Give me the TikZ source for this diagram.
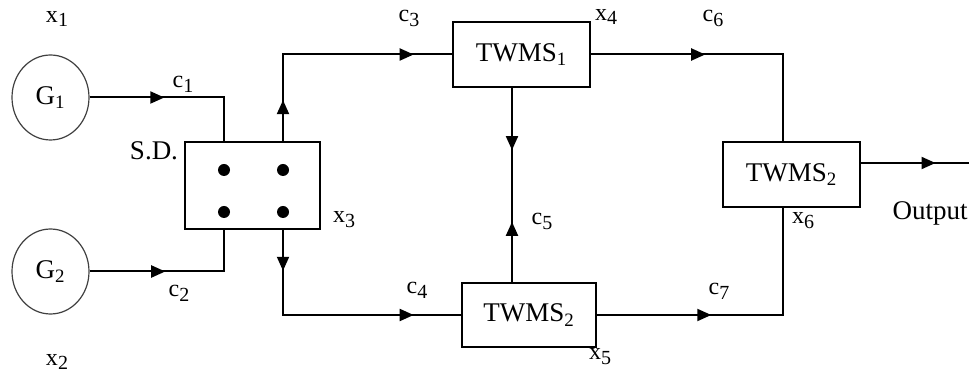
\documentclass[tikz,border=0pt]{standalone}
\usepackage{fontspec}
\setmainfont{Liberation Serif}
\usetikzlibrary{shapes.geometric,arrows.meta,decorations.markings}

\tikzset{
  >={Triangle[length=7pt,width=6pt]},
  gen/.style={ellipse,draw=black!75,line width=0.6pt,minimum width=38.5pt,minimum height=42.5pt,inner sep=0pt,font=\fontsize{13.5}{15}\selectfont},
  unit/.style={rectangle,draw,line width=1pt,inner sep=0pt,font=\fontsize{13.5}{15}\selectfont},
  dot/.style={circle,fill,inner sep=0pt,minimum size=6pt},
  lbl/.style={inner sep=0pt,font=\fontsize{12}{13}\selectfont},
  txt/.style={inner sep=0pt,font=\fontsize{13.5}{15}\selectfont},
  wire/.style={line width=1pt},
  fwd/.style={postaction={decorate,decoration={markings,mark=at position #1 with {\arrow{>}}}}},
  bwd/.style={postaction={decorate,decoration={markings,mark=at position #1 with {\arrowreversed{>}}}}}
}
\newcommand{\subl}[2]{#1\raisebox{-0.45ex}{\fontsize{10}{10}\selectfont #2}}

\begin{document}
\begin{tikzpicture}[x=0.5pt,y=-0.5pt]
        \useasboundingbox (0,0) rectangle (969,373);

        \node[gen] (G1) at (50.5,97.5) {G\textsubscript{1}};
        \node[gen] (G2) at (50.5,271.5) {G\textsubscript{2}};

        \node[unit,minimum width=67.5pt,minimum height=43.5pt] (sd) at (252.5,185.5) {};
        \node[dot] (d1) at (224,170) {};
        \node[dot] (d2) at (283,170) {};
        \node[dot] (d3) at (224,212) {};
        \node[dot] (d4) at (283,212) {};

        \node[unit,minimum width=68.5pt,minimum height=32.5pt] (tw1) at (521.5,54.5) {TWMS\textsubscript{1}};
        \node[unit,minimum width=67pt,minimum height=32pt] (tw2) at (529,315) {TWMS\textsubscript{2}};
        \node[unit,minimum width=68.5pt,minimum height=32.5pt] (tw3) at (791.5,174.5) {TWMS\textsubscript{2}};

        \coordinate (m5) at (512,0);
        \coordinate (m6) at (783,0);
        \coordinate (out) at (969,163);

        \draw[wire,fwd=0.42] (G1.east) -| (d1 |- sd.north);
        \draw[wire,fwd=0.43] (G2.east) -| (d3 |- sd.south);
        \draw[wire,fwd=0.16,fwd=0.85] (d2 |- sd.north) |- (tw1.west);
        \draw[wire,fwd=0.155,fwd=0.82] (d4 |- sd.south) |- (tw2.west);
        \draw[wire,fwd=0.32,bwd=0.69] (m5 |- tw1.south) -- (m5 |- tw2.north);
        \draw[wire,fwd=0.41] (tw1.east) -| (m6 |- tw3.north);
        \draw[wire,fwd=0.39] (tw2.east) -| (m6 |- tw3.south);
        \draw[wire,fwd=0.69] (tw3.east |- out) -- (out);

        \node[lbl] (x1) at (57,19) {\subl{x}{1}};
        \node[lbl] (x2) at (57,362) {\subl{x}{2}};
        \node[lbl] (x3) at (344,220) {\subl{x}{3}};
        \node[lbl] (x4) at (606,17) {\subl{x}{4}};
        \node[lbl] (x5) at (600,357) {\subl{x}{5}};
        \node[lbl] (x6) at (803,221) {\subl{x}{6}};
        \node[lbl] (c1) at (183,84) {\subl{c}{1}};
        \node[lbl] (c2) at (179,293) {\subl{c}{2}};
        \node[lbl] (c3) at (409,18) {\subl{c}{3}};
        \node[lbl] (c4) at (417,290) {\subl{c}{4}};
        \node[lbl] (c5) at (542,221) {\subl{c}{5}};
        \node[lbl] (c6) at (713,18) {\subl{c}{6}};
        \node[lbl] (c7) at (719,291) {\subl{c}{7}};
        \node[txt] (sdl) at (154,151) {S.D.};
        \node[txt] (outl) at (930,213) {Output};
\end{tikzpicture}
\end{document}
